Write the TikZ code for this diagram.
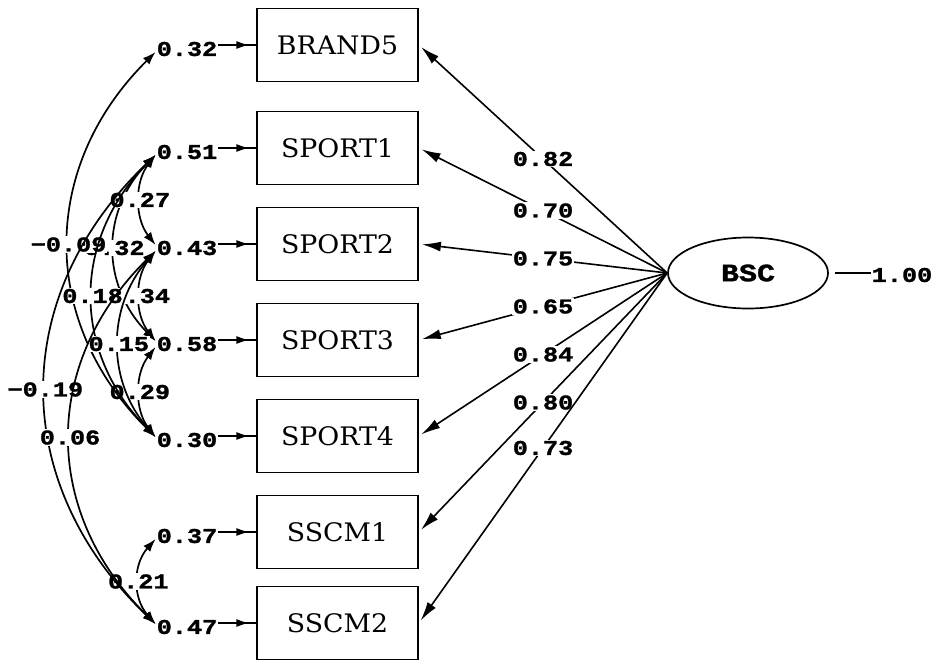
\documentclass[tikz,border=0pt]{standalone}
\usepackage{fontspec}
\usetikzlibrary{shapes.geometric,arrows.meta,decorations.markings}
\newfontfamily\boxfont[FakeStretch=1.05]{DejaVu Serif}
\newfontfamily\numfont[FakeStretch=1.2,FakeBold=1.4]{Liberation Mono}
\begin{document}
\begin{tikzpicture}[x=1pt,y=-1pt,
  box/.style={draw, line width=1.8pt, minimum width=161pt, minimum height=73pt, inner sep=0pt,
    font=\boxfont\fontsize{25.5}{25.5}\selectfont},
  num/.style={inner sep=1pt, font=\numfont\bfseries\fontsize{21}{21}\selectfont},
  cl/.style={num, fill=white},
  cov/.style={line width=1.7pt, <->, >={Latex[length=13pt,width=9pt]}},
  load/.style={line width=1.6pt, ->, >={Latex[length=19pt,width=10pt]}, shorten >=3pt},
  errarr/.style={line width=1.7pt, postaction={decorate},
    decoration={markings, mark=at position 0.82 with {\arrow{Latex[length=13pt,width=8pt]}}}},
]
\useasboundingbox (0,0) rectangle (939,662);

% observed variables
\node[box] (b1) at (337.5,45) {BRAND5};
\node[box] (b2) at (337.5,148) {SPORT1};
\node[box] (b3) at (337.5,244) {SPORT2};
\node[box] (b4) at (337.5,340) {SPORT3};
\node[box] (b5) at (337.5,436) {SPORT4};
\node[box] (b6) at (337.5,532) {SSCM1};
\node[box] (b7) at (337.5,623) {SSCM2};

% error variances
\node[num] (e1) at (187,49) {0.32};
\node[num] (e2) at (187,152) {0.51};
\node[num] (e3) at (187,248) {0.43};
\node[num] (e4) at (187,344) {0.58};
\node[num] (e5) at (187,440) {0.30};
\node[num] (e6) at (187,536) {0.37};
\node[num] (e7) at (187,627) {0.47};

\foreach \i in {1,...,7}{
  \draw[errarr] (e\i.east |- b\i.west) -- (b\i.west);
}

% latent variable
\node[draw, ellipse, line width=1.7pt, minimum width=160pt, minimum height=71pt, inner sep=0pt,
  font=\numfont\bfseries\fontsize{25}{25}\selectfont] (bsc) at (748,273) {BSC};
\node[num] (v) at (902,275) {1.00};
\coordinate (vs) at ([xshift=6pt]bsc.east);
\draw[line width=1.3pt] (vs) -- (vs -| v.west);

% loadings
\draw[load] (bsc.west) -- node[cl]{0.82} (b1.east);
\draw[load] (bsc.west) -- node[cl]{0.70} (b2.east);
\draw[load] (bsc.west) -- node[cl]{0.75} (b3.east);
\draw[load] (bsc.west) -- node[cl]{0.65} (b4.east);
\draw[load] (bsc.west) -- node[cl]{0.84} (b5.east);
\draw[load] (bsc.west) -- node[cl]{0.80} (b6.east);
\draw[load] (bsc.west) -- node[cl]{0.73} (b7.east);

% error covariances
\draw[cov] ([yshift=-3pt]e2.west) .. controls +(-55,56) and +(-55,-56) .. ([yshift=3pt]e4.west) node[cl,midway]{0.32};
\draw[cov] ([yshift=-3pt]e3.west) .. controls +(-21,27) and +(-21,-27) .. ([yshift=3pt]e4.west) node[cl,midway]{0.34};
\draw[cov] ([yshift=-3pt]e4.west) .. controls +(-21,27) and +(-21,-27) .. ([yshift=3pt]e5.west) node[cl,midway]{0.29};
\draw[cov] ([yshift=-3pt]e6.west) .. controls +(-23,26) and +(-23,-26) .. ([yshift=3pt]e7.west) node[cl,midway]{0.21};
\draw[cov] ([yshift=-3pt]e1.west) .. controls +(-116,115) and +(-116,-115) .. ([yshift=3pt]e5.west) node[cl,midway]{−0.09};
\draw[cov] ([yshift=-3pt]e2.west) .. controls +(-21,27) and +(-21,-27) .. ([yshift=3pt]e3.west) node[cl,midway]{0.27};
\draw[cov] ([yshift=-3pt]e2.west) .. controls +(-84,85) and +(-84,-85) .. ([yshift=3pt]e5.west) node[cl,midway]{0.18};
\draw[cov] ([yshift=-3pt]e3.west) .. controls +(-49,56) and +(-49,-56) .. ([yshift=3pt]e5.west) node[cl,midway]{0.15};
\draw[cov] ([yshift=-3pt]e2.west) .. controls +(-147,141) and +(-147,-141) .. ([yshift=3pt]e7.west) node[cl,midway]{−0.19};
\draw[cov] ([yshift=-3pt]e3.west) .. controls +(-114,112) and +(-114,-112) .. ([yshift=3pt]e7.west) node[cl,midway]{0.06};
\end{tikzpicture}
\end{document}
